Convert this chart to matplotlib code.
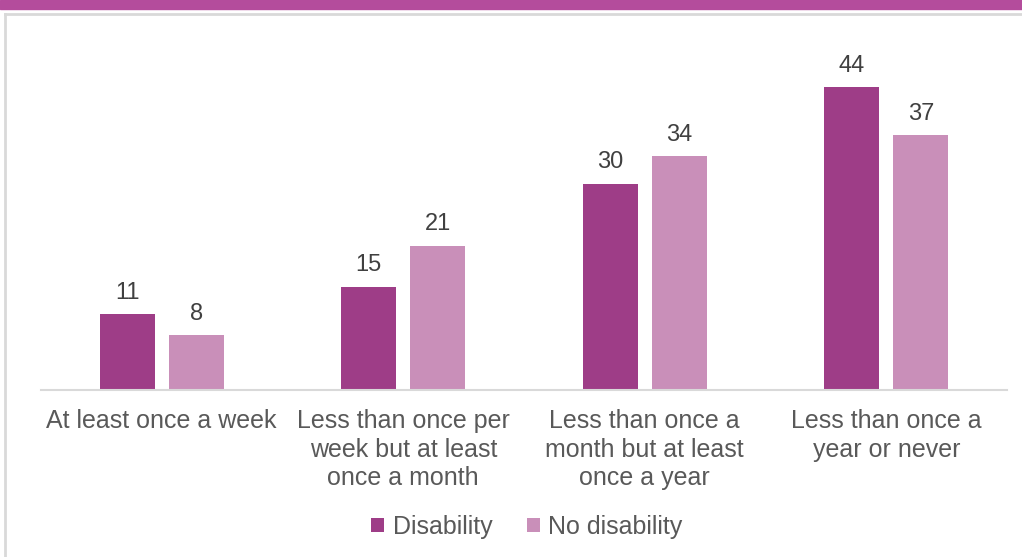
import matplotlib
matplotlib.use("Agg")
import matplotlib.pyplot as plt
from matplotlib.patches import Rectangle
import numpy as np

categories = ["At least once a week",
              "Less than once per\nweek but at least\nonce a month",
              "Less than once a\nmonth but at least\nonce a year",
              "Less than once a\nyear or never"]
disability = [11, 15, 30, 44]
no_disability = [8, 21, 34, 37]
series_names = ["Disability", "No disability"]

dark = "#9E3D87"
light = "#C98FB9"
text_col = "#595959"

plt.rcParams['font.family'] = ['Liberation Sans', 'DejaVu Sans']

fig = plt.figure(figsize=(10.22, 5.57), dpi=100)
W, H = 1022, 557

# top band
fig.patches.append(Rectangle((0, 1 - 9 / H), 1, 9 / H, transform=fig.transFigure,
                             color="#B44C9C", zorder=0))
# border lines
fig.lines.append(plt.Line2D([5 / W, 1], [1 - 14 / H, 1 - 14 / H], transform=fig.transFigure,
                            color="#D9D9D9", lw=2))
fig.lines.append(plt.Line2D([5 / W, 5 / W], [0, 1 - 14 / H], transform=fig.transFigure,
                            color="#D9D9D9", lw=2))

ax = fig.add_axes([41 / W, 1 - 390 / H, 966 / W, 344 / H])
x = np.arange(len(categories))
bw = 0.228
off = 0.143
b1 = ax.bar(x - off, disability, bw, color=dark, label=series_names[0])
b2 = ax.bar(x + off, no_disability, bw, color=light, label=series_names[1])
for bars, vals in ((b1, disability), (b2, no_disability)):
    for r, v in zip(bars, vals):
        ax.annotate(str(v), (r.get_x() + r.get_width() / 2, v), xytext=(0, 7.5),
                    textcoords="offset points", ha="center", va="bottom",
                    fontsize=17, color="#404040")

ax.set_xlim(-0.5, 3.5)
ax.set_ylim(0, 50)
ax.set_yticks([])
ax.set_xticks(x)
ax.set_xticklabels(categories, fontsize=18, color=text_col, linespacing=1.22)
ax.tick_params(axis="x", length=0, pad=14)
for s in ("top", "right", "left"):
    ax.spines[s].set_visible(False)
ax.spines["bottom"].set_color("#D9D9D9")
ax.spines["bottom"].set_linewidth(1.5)

leg = fig.legend(loc="center", bbox_to_anchor=(527 / W, 1 - 527 / H), ncol=2, frameon=False,
                 fontsize=18, handlelength=0.5, handleheight=0.5, handletextpad=0.35,
                 columnspacing=1.4)
for t in leg.get_texts():
    t.set_color(text_col)

fig.savefig("out.png", dpi=100)
